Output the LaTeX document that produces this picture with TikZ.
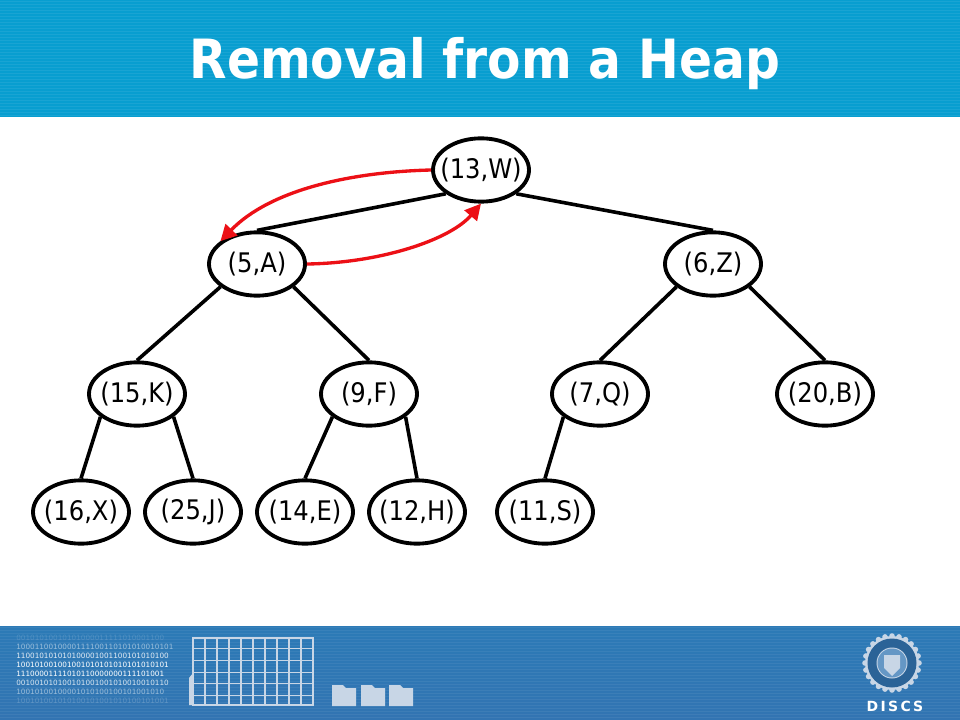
\documentclass[tikz,border=0pt]{standalone}
\usepackage{fontspec}
\setmainfont{DejaVu Sans}
\newfontfamily\condfont{DejaVu Sans Condensed}
\usetikzlibrary{arrows.meta,shapes.geometric}
\definecolor{topblue}{RGB}{8,158,208}
\definecolor{footblue}{RGB}{50,116,178}
\definecolor{footlite}{RGB}{200,214,230}
\definecolor{arrowred}{RGB}{236,16,22}
\newcommand{\heaptext}[1]{\makebox[0pt]{#1}}
\tikzset{
  heapnode/.style={draw=black,line width=2.9pt,ellipse,fill=white,minimum width=72pt,minimum height=47.5pt,inner sep=0pt,font=\condfont\fontsize{20.2}{22}\selectfont},
  edgeline/.style={draw=black,line width=2.7pt},
  movearrow/.style={draw=arrowred,line width=2.5pt,-{Triangle[length=12pt,width=12pt]}},
  bits/.style={anchor=west,text=white,font=\fontsize{5.45}{6}\selectfont,inner sep=0pt},
  gridline/.style={draw=footlite,line width=.6pt},
  footfill/.style={fill=footlite,draw=none}
}
\begin{document}
\begin{tikzpicture}[x=.75pt,y=-.75pt]
\useasboundingbox (0,0) rectangle (960,720);
\fill[white] (0,0) rectangle (960,720);
% title band
\fill[topblue] (0,0) rectangle (960,117);
\foreach \y in {1,4,...,117} \draw[white,opacity=.07,line width=.6pt] (0,\y) -- (960,\y);
\node (title) at (485,64) [text=white,inner sep=0pt,font=\condfont\bfseries\fontsize{40.6}{48}\selectfont] {Removal from a Heap};
% footer band
\fill[top color=footblue!85!topblue,bottom color=footblue] (0,626) rectangle (960,720);
\foreach \y in {627,630,...,720} \draw[white,opacity=.06,line width=.6pt] (0,\y) -- (960,\y);
\node[bits,opacity=.15] (b1) at (16,638) {00101010010101000011111010001100};
\node[bits,opacity=.5] (b2) at (16,647) {1000110010000111100110101010010101};
\node[bits,opacity=.85] (b3) at (16,656) {110010101010100001001100101010100};
\node[bits,opacity=1] (b4) at (16,665) {100101001001001010101010101010101};
\node[bits,opacity=1] (b5) at (16,674) {11100001111010110000000111101001};
\node[bits,opacity=.8] (b6) at (16,683) {001001010100101001001010010010110};
\node[bits,opacity=.5] (b7) at (16,692) {10010100100001010100100101001010};
\node[bits,opacity=.2] (b8) at (16,701) {100101001010100101001010100101001};
% chart
\fill[footfill] (189,705) -- (189,678) -- (193,673) -- (193,705) -- cycle;
\foreach \x in {205,217,229,241,253,265,277,289,301} \draw[gridline,line width=.8pt] (\x,638) -- (\x,705);
\foreach \y in {648,660,672,683,695} \draw[gridline] (193,\y) -- (313,\y);
\draw[draw=footlite,line width=1.2pt] (193,638) rectangle (313,705);
% folders
\foreach \x in {332,361,389} \fill[footfill] (\x,706) -- (\x,685) -- (\x+11,685) -- (\x+14,688) -- (\x+24,688) -- (\x+24,706) -- cycle;
% seal
\fill[footlite] (892,663) circle (27);
\foreach \a in {0,15,...,345} \fill[footlite] (892,663) ++(\a:27) circle (2.8);
\fill[footblue!85!black] (892,663) circle (24.5);
\fill[footlite] (892,663) circle (15.5);
\fill[footblue!75!white] (892,663) circle (14.5);
\fill[footlite] (884,655) -- (900,655) -- (900,668) -- (892,676) -- (884,668) -- cycle;
\node (discs) at (895,706) [text=white,inner sep=0pt,font=\fontsize{10.5}{12}\bfseries\selectfont] {D\,I\,S\,C\,S};
% heap nodes
\node[heapnode] (w) at (481,170) {\heaptext{(13,W)}};
\node[heapnode] (a) at (257,264) {\heaptext{(5,A)}};
\node[heapnode] (z) at (713,264) {\heaptext{(6,Z)}};
\node[heapnode] (k) at (137,394) {\heaptext{(15,K)}};
\node[heapnode] (f) at (369,394) {\heaptext{(9,F)}};
\node[heapnode] (q) at (600,394) {\heaptext{(7,Q)}};
\node[heapnode] (bb) at (825,394) {\heaptext{(20,B)}};
\node[heapnode] (x) at (81,512) {\heaptext{(16,X)}};
\node[heapnode] (j) at (193,512) {\heaptext{(25,J)}};
\node[heapnode] (e) at (305,512) {\heaptext{(14,E)}};
\node[heapnode] (h) at (417,512) {\heaptext{(12,H)}};
\node[heapnode] (s) at (545,512) {\heaptext{(11,S)}};
% tree edges
\draw[edgeline] (w.214) -- (a.north);
\draw[edgeline] (w.326) -- (z.north);
\draw[edgeline] (a.212) -- (k.north);
\draw[edgeline] (a.328) -- (f.north);
\draw[edgeline] (z.212) -- (q.north);
\draw[edgeline] (z.328) -- (bb.north);
\draw[edgeline] (k.212) -- (x.north);
\draw[edgeline] (k.328) -- (j.north);
\draw[edgeline] (f.212) -- (e.north);
\draw[edgeline] (f.328) -- (h.north);
\draw[edgeline] (q.212) -- (s.north);
% red arrows
\draw[movearrow] (w.west) .. controls (350,172) and (270,190) .. (a.148);
\draw[movearrow] (a.east) .. controls (380,263) and (450,240) .. (w.south);
\end{tikzpicture}
\end{document}
